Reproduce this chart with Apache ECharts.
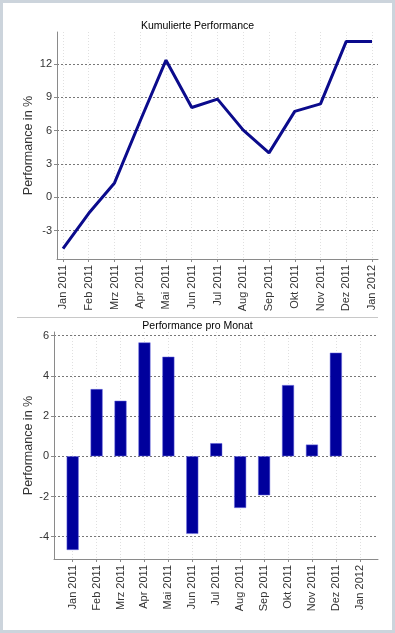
<!DOCTYPE html>
<html>
<head>
<meta charset="utf-8">
<script src="https://cdn.jsdelivr.net/npm/echarts@6/dist/echarts.min.js"></script>
<style>
html,body{margin:0;padding:0;background:#fff;}
#c{width:395px;height:633px;}
</style>
</head>
<body>
<div id="c"></div>
<script>
var categories = ['Jan 2011','Feb 2011','Mrz 2011','Apr 2011','Mai 2011','Jun 2011','Jul 2011','Aug 2011','Sep 2011','Okt 2011','Nov 2011','Dez 2011','Jan 2012'];
var cumulative = [-4.63,-1.45,1.29,6.9,12.36,8.09,8.85,6.05,4.0,7.74,8.42,14.05,14.05];
var monthly = [-4.66,3.34,2.76,5.66,4.95,-3.86,0.65,-2.57,-1.94,3.54,0.58,5.15,null];
var cumTicks = [-3,0,3,6,9,12];
var monTicks = [-4,-2,0,2,4,6];
var titles = ['Kumulierte Performance','Performance pro Monat'];
var yName = 'Performance in %';

var FONT = 'Liberation Sans';
var catIdx = categories.map(function(c,i){return i;});
function pairs(arr){ return arr.map(function(v,i){ return [i, v]; }); }

function xAxisCfg(gridIndex, min, max){
  return {
    type:'value', gridIndex:gridIndex, min:min, max:max,
    axisLine:{show:true, onZero:false, lineStyle:{color:'#8a8a8a', width:1}},
    axisTick:{show:true, customValues:catIdx, length:3, lineStyle:{color:'#8a8a8a'}},
    axisLabel:{customValues:catIdx, rotate:90, margin:6, fontSize:11, fontFamily:FONT, color:'#333',
      formatter:function(v){ return categories[Math.round(v)]; }},
    splitLine:{show:true, lineStyle:{color:'#e0e0e0', type:[1,2], width:1}}
  };
}
function yAxisCfg(gridIndex, min, max, ticks, gap){
  return {
    type:'value', gridIndex:gridIndex, min:min, max:max,
    name:yName, nameLocation:'middle', nameGap:gap, nameRotate:90, nameMoveOverlap:false,
    nameTextStyle:{fontSize:12.5, fontFamily:FONT, color:'#333'},
    axisLine:{show:true, onZero:false, lineStyle:{color:'#8a8a8a', width:1}},
    axisTick:{show:true, customValues:ticks, length:3, lineStyle:{color:'#8a8a8a'}},
    axisLabel:{customValues:ticks, margin:5, fontSize:11, fontFamily:FONT, color:'#333'},
    splitLine:{show:true, lineStyle:{color:'#777', type:[2,2], width:1}}
  };
}

var chart = echarts.init(document.getElementById('c'), null, {renderer:'canvas'});
chart.setOption({
  animation:false,
  backgroundColor:'#fff',
  title:[
    {text:titles[0], left:'center', top:16, textStyle:{fontSize:10.5, fontWeight:'normal', fontFamily:FONT, color:'#000'}},
    {text:titles[1], left:'center', top:316, textStyle:{fontSize:10.5, fontWeight:'normal', fontFamily:FONT, color:'#000'}}
  ],
  grid:[
    {left:57, right:17, top:32, height:227, containLabel:false},
    {left:54, right:17, top:332, height:227, containLabel:false}
  ],
  xAxis:[ xAxisCfg(0,-0.233,12.233), xAxisCfg(1,-0.78,12.76) ],
  yAxis:[ yAxisCfg(0,-5.57,14.9,cumTicks,22), yAxisCfg(1,-5.11,6.18,monTicks,19) ],
  series:[
    {type:'line', xAxisIndex:0, yAxisIndex:0, data:pairs(cumulative), showSymbol:false,
     lineStyle:{color:'#0b0b8c', width:3}, itemStyle:{color:'#0b0b8c'}},
    {type:'bar', xAxisIndex:1, yAxisIndex:1, data:pairs(monthly), barWidth:12,
     itemStyle:{color:'#00009c', borderColor:'#6a6ae0', borderWidth:0.5}}
  ],
  graphic:[
    {type:'rect', shape:{x:1.5, y:1.5, width:392, height:630}, style:{fill:'none', stroke:'#ccd4dc', lineWidth:3}, silent:true},
    {type:'line', shape:{x1:17, y1:317.5, x2:378, y2:317.5}, style:{stroke:'#c8c8c8', lineWidth:1}, silent:true}
  ]
});
</script>
</body>
</html>
